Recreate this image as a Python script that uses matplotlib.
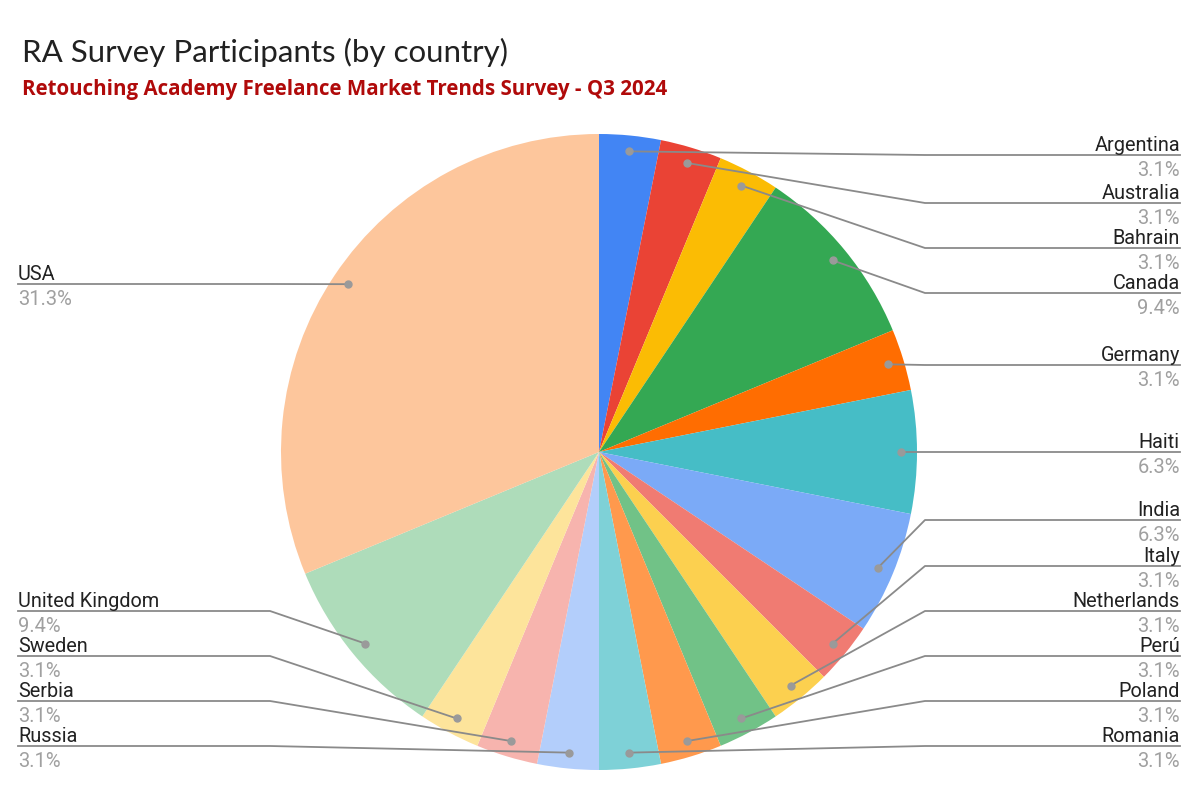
import matplotlib.pyplot as plt
import numpy as np

# 数据：参与调查的国家和人数
countries = ['Argentina', 'Australia', 'Bahrain', 'Canada', 'Germany', 'Haiti',
             'India', 'Italy', 'Netherlands', 'Perú', 'Poland', 'Romania',
             'Russia', 'Serbia', 'Sweden', 'United Kingdom', 'USA']
counts = [1, 1, 1, 3, 1, 2, 2, 1, 1, 1, 1, 1, 1, 1, 1, 3, 10]
colors = ['#4285F4', '#EA4335', '#FBBC04', '#34A853', '#FF6D01', '#46BDC6',
          '#7BAAF7', '#F07B72', '#FCD04F', '#71C287', '#FF994D', '#7ED1D7',
          '#B3CEFB', '#F7B4AE', '#FDE49B', '#AEDCBA', '#FDC69C']

# 标签布局（像素，从上往下）
label_y = [155, 203, 248, 293, 365, 452, 520, 566, 611, 656, 701, 746,
           746, 701, 656, 611, 284]
label_side = ['R'] * 12 + ['L'] * 5

W, H = 1200, 794
fig = plt.figure(figsize=(12, 7.94), dpi=100)
ax = fig.add_axes([0, 0, 1, 1])

cx, cy, r = 599, H - 452, 318
ax.pie(counts, colors=colors, startangle=90, counterclock=False,
       center=(cx, cy), radius=r, wedgeprops=dict(linewidth=0), frame=True)
ax.set_xlim(0, W)
ax.set_ylim(0, H)
ax.set_aspect('equal')
ax.axis('off')

total = sum(counts)
cum = np.cumsum([0] + counts)
for i, name in enumerate(countries):
    mid = (cum[i] + cum[i + 1]) / 2 / total
    ang = np.pi / 2 - 2 * np.pi * mid
    dx, dy = cx + 0.95 * r * np.cos(ang), cy + 0.95 * r * np.sin(ang)
    ly = H - label_y[i]
    pct = np.floor(counts[i] / total * 1000 + 0.5) / 10
    if label_side[i] == 'R':
        xs = [dx, 925, 1180]
        tx, ha = 1180, 'right'
    else:
        xs = [dx, 270, 18]
        tx, ha = 18, 'left'
    ax.plot(xs, [dy, ly, ly], color='#8a8a8a', lw=1.3, zorder=3)
    ax.plot(dx, dy, 'o', color='#9a9a9a', ms=5, zorder=4)
    ax.text(tx, ly + 4, name, ha=ha, va='baseline', fontsize=14.3,
            family='Roboto', color='#222222')
    ax.text(tx, ly - 6, f'{pct:.1f}%', ha=ha, va='top', fontsize=14.5,
            family='Roboto', color='#a0a0a0')

# 标题
fig.text(22 / W, 1 - 62 / H, 'RA Survey Participants (by country)',
         fontsize=22.5, family='Lato', color='#212121', va='baseline')
fig.text(22 / W, 1 - 95 / H, 'Retouching Academy Freelance Market Trends Survey - Q3 2024',
         fontsize=14.8, family='Open Sans', fontweight='bold', color='#B00A0A',
         va='baseline')

plt.savefig('out.png', dpi=100)
